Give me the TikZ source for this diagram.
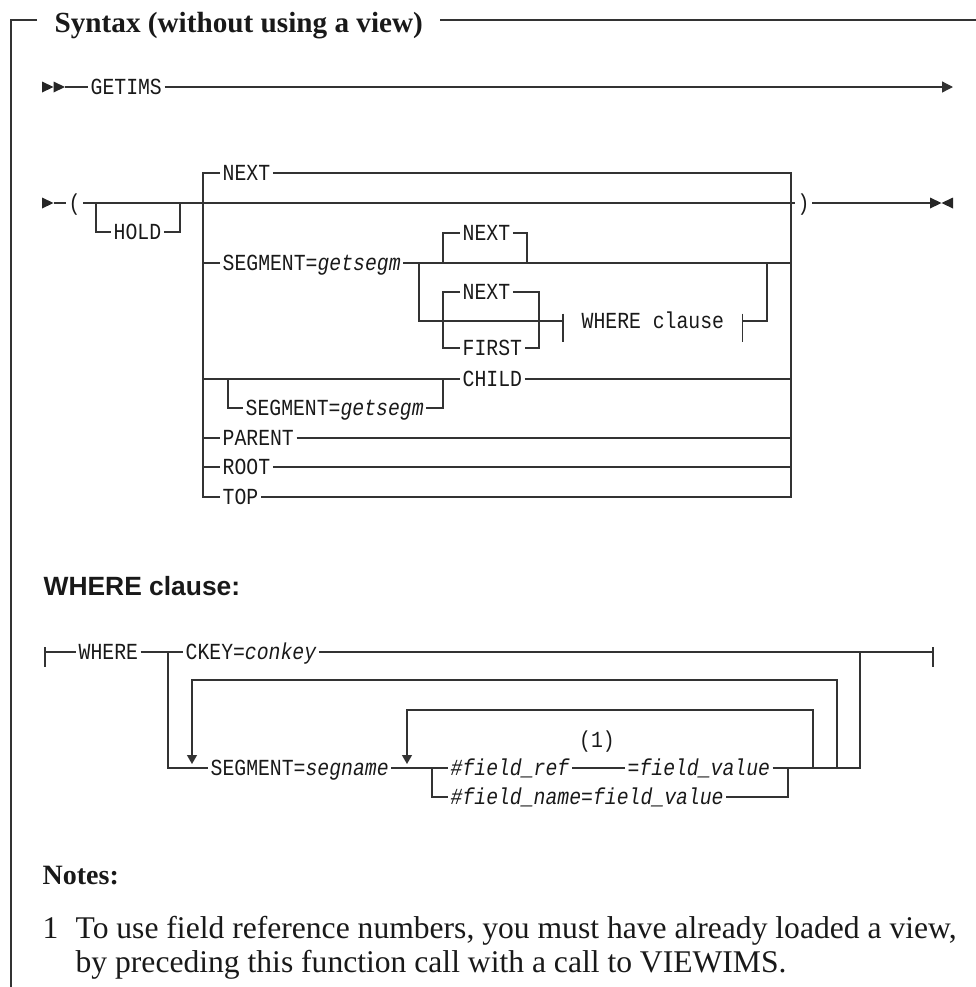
\documentclass[tikz,border=0pt]{standalone}
\usepackage{fontspec}
\setmainfont{Liberation Serif}
\setsansfont{Liberation Sans}
\setmonofont[FakeStretch=0.86]{Liberation Mono}
\usepackage{tikz}
\usetikzlibrary{arrows.meta}
\tikzstyle{every node}=[font=\ttfamily\fontsize{11.5}{13}\selectfont,text=black!90]
\tikzstyle{kw}=[inner xsep=1pt,
                inner ysep=0pt,
                text height=7.6pt,
                text depth=0pt,
                anchor=west]
\tikzstyle{title}=[font=\rmfamily\bfseries\fontsize{14.6}{17}\selectfont,
                   inner sep=0pt,
                   anchor=base west]
\tikzstyle{head}=[font=\sffamily\bfseries\fontsize{13.2}{16}\selectfont,
                  inner sep=0pt,
                  anchor=base west]
\tikzstyle{note}=[font=\rmfamily\fontsize{15.8}{19}\selectfont,
                  inner sep=0pt,
                  anchor=base west]
\tikzstyle{tip}=[fill=black!85]
\tikzstyle{loopback}=[-{Triangle[length=4.5pt,width=5pt]}]

\begin{document}
\begin{tikzpicture}[x=.5pt,y=-.5pt,line width=.65pt,color=black!80,>={Triangle[length=5.5pt,width=5.5pt]}]
\useasboundingbox (0,0) rectangle (976,987);
% frame
\node (TITLE) [title] at (54,32) {Syntax (without using a view)};
\draw (37,20) -- (11,20) -- (11,987);
\draw (440,20) -- (976,20);
% GETIMS
\fill[tip] (42,81.5) -- (53.5,87) -- (42,92.5) -- cycle;
\fill[tip] (53.5,81.5) -- (65,87) -- (53.5,92.5) -- cycle;
\node (GETIMS) [kw] at (88,87) {GETIMS};
\coordinate (END_1) at (953,87);
\draw (65,87) -- (GETIMS.west);
\draw[->] (GETIMS.east) -- (END_1);
% ( HOLD choice )
\fill[tip] (42,197.5) -- (53.5,203) -- (42,208.5) -- cycle;
\node (LP) [kw] at (66,203) {(};
\node (RP) [kw] at (795,203) {)};
\node (HOLD) [kw] at (111,232) {HOLD};
\coordinate (C_L) at (203,203);
\coordinate (C_R) at (791,203);
\draw (53.5,203) -- (LP.west);
\draw (LP.east) -- (C_L) -- (C_R) -- (RP.west);
\draw (96,203) |- (HOLD.west);
\draw (HOLD.east) -| (180,203);
\draw (RP.east) -- (930,203);
\fill[tip] (930,197.5) -- (941.5,203) -- (930,208.5) -- cycle;
\fill[tip] (953,197.5) -- (941.5,203) -- (953,208.5) -- cycle;
\node (NEXT_1) [kw] at (220,173) {NEXT};
\node (SEGM_1) [kw] at (220,263) {SEGMENT=\textit{getsegm}};
\node (CHILD) [kw] at (460,379) {CHILD};
\node (SEGM_2) [kw] at (243,408) {SEGMENT=\textit{getsegm}};
\node (PARENT) [kw] at (220,438) {PARENT};
\node (ROOT) [kw] at (220,467) {ROOT};
\node (TOP) [kw] at (220,497) {TOP};
\draw (NEXT_1.west) -| (C_L) |- (TOP.west);
\draw (NEXT_1.east) -| (C_R) |- (TOP.east);
\foreach \n in {SEGM_1,CHILD,PARENT,ROOT}
  \draw (C_L |- \n.west) -- (\n.west);
\foreach \n in {CHILD,PARENT,ROOT}
  \draw (\n.east) -- (C_R |- \n.east);
\draw (228,379) |- (SEGM_2.west);
\draw (SEGM_2.east) -| (443,379);
% SEGMENT=getsegm options
\coordinate (S_L) at (419,263);
\coordinate (S_R) at (767,263);
\node (NEXT_2) [kw] at (460,233) {NEXT};
\node (NEXT_3) [kw] at (460,292) {NEXT};
\node (FIRST) [kw] at (460,348) {FIRST};
\node (WREF) [kw,inner xsep=9pt] at (563,321) {WHERE clause};
\draw (SEGM_1.east) -- (S_L) -- (S_R) -- (C_R |- S_R);
\draw (443,263) |- (NEXT_2.west);
\draw (NEXT_2.east) -| (527,263);
\draw (S_L) |- (WREF.west);
\draw (WREF.east) -| (S_R);
\draw (NEXT_3.west) -| (443,348) -- (FIRST.west);
\draw (NEXT_3.east) -| (539,348) -- (FIRST.east);
\draw ([yshift=3.7pt]WREF.west) -- ([yshift=-10.5pt]WREF.west);
\draw ([yshift=3.7pt]WREF.east) -- ([yshift=-10.5pt]WREF.east);
% WHERE clause fragment
\node (WH) [head] at (43,595) {WHERE clause:};
\node (WHERE) [kw] at (76,652) {WHERE};
\node (CKEY) [kw] at (183,652) {CKEY=\textit{conkey}};
\node (SEGN) [kw] at (208,768) {SEGMENT=\textit{segname}};
\node (FREF) [kw] at (448,768) {\textit{\#field\_ref}};
\node (FVAL) [kw] at (625,768) {\textit{=field\_value}};
\node (FNOTE) [kw,anchor=center] at (597,740) {(1)};
\node (FNAME) [kw] at (448,797) {\textit{\#field\_name=field\_value}};
\coordinate (W_S) at (45,652);
\coordinate (W_J) at (168,652);
\coordinate (W_R) at (860,652);
\coordinate (W_E) at (933,652);
\coordinate (F_J) at (432,768);
\draw (45,647) -- (45,667);
\draw (933,647) -- (933,667);
\draw (W_S) -- (WHERE.west);
\draw (WHERE.east) -- (W_J) -- (CKEY.west);
\draw (CKEY.east) -- (W_R) -- (W_E);
\draw (W_J) |- (SEGN.west);
\draw (SEGN.east) -- (F_J) -- (FREF.west);
\draw (FREF.east) -- (FVAL.west);
\draw (FVAL.east) -| (W_R);
\draw (F_J) |- (FNAME.west);
\draw (FNAME.east) -| (788,768);
\draw[loopback] (837,768) -- (837,680) -| (192,764);
\draw[loopback] (813,768) -- (813,710) -| (407,764);
% notes
\node (NOTES) [note,font=\rmfamily\bfseries\fontsize{14}{17}\selectfont] at (42,884) {Notes:};
\node (N1) [note] at (42,938) {1};
\node (N1_a) [note] at (75,938) {To use field reference numbers, you must have already loaded a view,};
\node (N1_b) [note] at (75,972) {by preceding this function call with a call to VIEWIMS.};
\end{tikzpicture}
\end{document}
